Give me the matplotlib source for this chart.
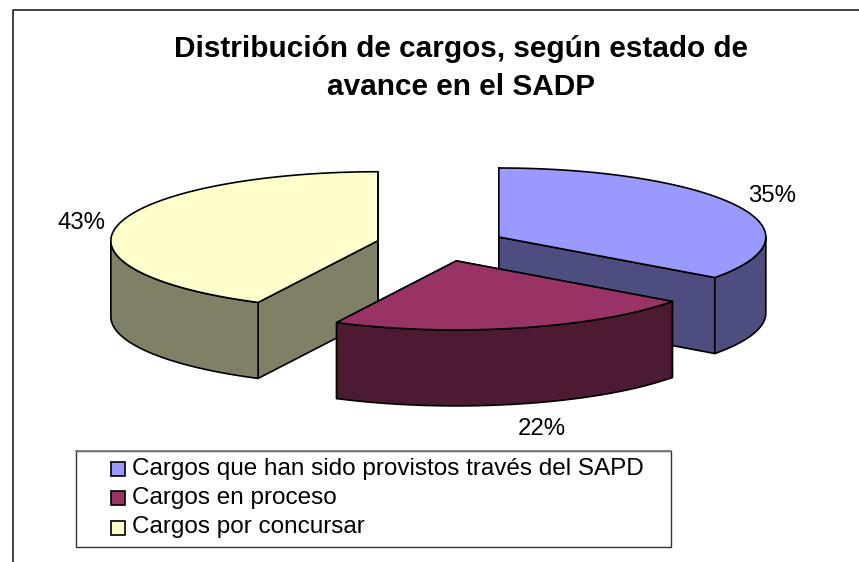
import matplotlib
matplotlib.use('Agg')
import matplotlib.pyplot as plt
import numpy as np
from matplotlib.patches import Polygon, Rectangle

plt.rcParams['font.family'] = ['Liberation Sans', 'DejaVu Sans']

# data
title = 'Distribución de cargos, según estado de\navance en el SADP'
categories = ['Cargos que han sido provistos través del SAPD',
              'Cargos en proceso',
              'Cargos por concursar']
values = [35, 22.4, 42.6]
pct_labels = ['35%', '22%', '43%']

top_colors = ['#9999FF', '#993366', '#FFFFCC']
side_colors = ['#4D4D80', '#4D1A33', '#808066']

# pie geometry, in pixels of the picture
cx, cy = 441, 244.6
rx, ry = 267, 69
depth = 76
explode = 0.243
label_pos = [(772, 196), (542, 429), (82, 223)]

fig = plt.figure(figsize=(8.59, 5.62), dpi=100)
ax = fig.add_axes([0, 0, 1, 1])
ax.set_xlim(0, 859)
ax.set_ylim(562, 0)
ax.axis('off')

# chart frame runs off the right and bottom of the picture
ax.plot([12.5, 12.5, 859], [562, 9.5, 9.5], color='#333333', lw=1.3)


def arc(x0, y0, a, b):
    t = np.radians(np.linspace(a, b, 120))
    return np.column_stack([x0 + rx * np.sin(t), y0 - ry * np.cos(t)])


def down(pts):
    return pts + np.array([0, depth])


edges = np.cumsum([0] + values) * 3.6
slices = []
for i in range(len(values)):
    a, b = edges[i], edges[i + 1]
    mid = np.radians((a + b) / 2)
    x0 = cx + explode * rx * np.sin(mid)
    y0 = cy - explode * ry * np.cos(mid)
    slices.append((i, a, b, x0, y0))

# painter's order: blue, yellow, then maroon in front
for i, a, b, x0, y0 in [slices[0], slices[2], slices[1]]:
    style = dict(facecolor=side_colors[i], edgecolor='black', lw=1.2, joinstyle='round')
    apex = np.array([[x0, y0]])
    # cut faces
    for ang in (a, b):
        rim = arc(x0, y0, ang, ang)[:1]
        face = np.vstack([apex, rim, down(rim), down(apex)])
        ax.add_patch(Polygon(face, closed=True, **style))
    # outer wall, only the part facing the viewer
    lo, hi = max(a, 90), min(b, 270)
    if lo < hi:
        rim = arc(x0, y0, lo, hi)
        wall = np.vstack([rim, down(rim)[::-1]])
        ax.add_patch(Polygon(wall, closed=True, **style))
    # top
    top = np.vstack([apex, arc(x0, y0, a, b)])
    ax.add_patch(Polygon(top, closed=True, facecolor=top_colors[i],
                         edgecolor='black', lw=1.2))

for lab, (x, y) in zip(pct_labels, label_pos):
    ax.text(x, y, lab, fontsize=17.3, color='black', ha='center', va='center')

ax.text(461, 68, title, fontsize=21.4, fontweight='bold', color='black',
        ha='center', va='center', linespacing=1.45)

# legend
ax.add_patch(Rectangle((76, 451), 595, 96, facecolor='white', edgecolor='#333333', lw=1.0))
ax.plot([76, 671], [451, 451], color='#777777', lw=1.2)
legend_y = [469, 498, 527.5]
for name, col, y in zip(categories, top_colors, legend_y):
    ax.add_patch(Rectangle((111, y - 7), 14, 14, facecolor=col, edgecolor='black', lw=1.2))
    ax.text(132, y, name, fontsize=17.5, color='black', ha='left', va='center')

fig.savefig('out.png', dpi=100, facecolor='white')
